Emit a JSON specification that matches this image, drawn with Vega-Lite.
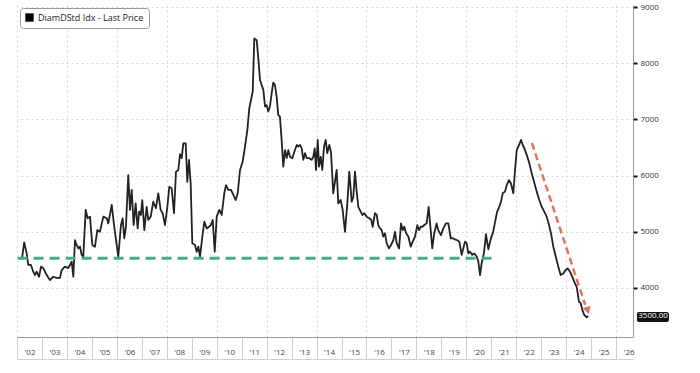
{
  "$schema": "https://vega.github.io/schema/vega-lite/v6.json",
  "width": 616,
  "height": 332,
  "autosize": "none",
  "padding": {"left": 17, "top": 5, "right": 67, "bottom": 36},
  "background": "white",
  "config": {"font": "Open Sans", "view": {"stroke": null}},
  "datasets": {
    "price": [
      {"date":"2002-03-17","value":4540},{"date":"2002-04-16","value":4813},{"date":"2002-05-22","value":4620},{"date":"2002-06-15","value":4410},{"date":"2002-07-24","value":4410},{"date":"2002-08-27","value":4290},{"date":"2002-09-21","value":4230},{"date":"2002-10-16","value":4290},{"date":"2002-11-19","value":4200},{"date":"2002-12-19","value":4380},
      {"date":"2003-01-20","value":4355},{"date":"2003-03-11","value":4230},{"date":"2003-04-28","value":4140},{"date":"2003-06-16","value":4200},{"date":"2003-08-04","value":4180},{"date":"2003-09-22","value":4180},{"date":"2003-10-16","value":4320},{"date":"2003-12-03","value":4380},
      {"date":"2004-01-21","value":4355},{"date":"2004-02-15","value":4410},{"date":"2004-03-11","value":4470},{"date":"2004-04-04","value":4200},{"date":"2004-04-28","value":4850},{"date":"2004-05-23","value":4765},{"date":"2004-06-16","value":4705},{"date":"2004-07-10","value":4735},{"date":"2004-08-04","value":4590},{"date":"2004-08-28","value":4560},{"date":"2004-10-02","value":5390},{"date":"2004-10-31","value":5240},{"date":"2004-12-04","value":5270},
      {"date":"2005-01-07","value":4765},{"date":"2005-02-15","value":4735},{"date":"2005-03-21","value":5030},{"date":"2005-04-29","value":5000},{"date":"2005-06-17","value":5270},{"date":"2005-08-06","value":5240},{"date":"2005-08-29","value":5150},{"date":"2005-10-18","value":5480},{"date":"2005-11-21","value":5120},{"date":"2005-12-20","value":4850},
      {"date":"2006-01-22","value":4560},{"date":"2006-03-02","value":5120},{"date":"2006-03-27","value":5240},{"date":"2006-04-19","value":4885},{"date":"2006-05-14","value":5090},{"date":"2006-06-17","value":6010},{"date":"2006-07-12","value":5390},{"date":"2006-08-06","value":5745},{"date":"2006-09-04","value":5120},{"date":"2006-10-03","value":5505},{"date":"2006-11-01","value":5060},{"date":"2006-11-24","value":5360},{"date":"2006-12-19","value":5300},
      {"date":"2007-01-08","value":5565},{"date":"2007-02-07","value":5030},{"date":"2007-03-13","value":5445},{"date":"2007-04-06","value":5210},{"date":"2007-05-11","value":5270},{"date":"2007-06-18","value":5535},{"date":"2007-07-27","value":5420},{"date":"2007-08-30","value":5685},{"date":"2007-10-04","value":5390},{"date":"2007-11-02","value":5330},{"date":"2007-12-06","value":5120},
      {"date":"2008-01-08","value":5420},{"date":"2008-02-07","value":5800},{"date":"2008-03-13","value":5775},{"date":"2008-04-16","value":5330},{"date":"2008-05-15","value":6070},{"date":"2008-06-18","value":6100},{"date":"2008-07-13","value":6380},{"date":"2008-08-07","value":6310},{"date":"2008-08-30","value":6575},{"date":"2008-10-04","value":6575},{"date":"2008-10-28","value":5890},{"date":"2008-11-22","value":6280},{"date":"2008-12-16","value":5860},
      {"date":"2009-01-09","value":4795},{"date":"2009-02-18","value":4765},{"date":"2009-03-14","value":4645},{"date":"2009-04-07","value":4735},{"date":"2009-05-02","value":4560},{"date":"2009-06-05","value":4915},{"date":"2009-07-04","value":5180},{"date":"2009-08-08","value":5060},{"date":"2009-09-11","value":5090},{"date":"2009-10-06","value":5120},{"date":"2009-11-04","value":5210},{"date":"2009-12-03","value":4645},
      {"date":"2010-01-01","value":5270},{"date":"2010-02-08","value":5390},{"date":"2010-03-15","value":5300},{"date":"2010-04-22","value":5685},{"date":"2010-05-17","value":5830},{"date":"2010-06-19","value":5745},{"date":"2010-07-29","value":5745},{"date":"2010-09-01","value":5655},{"date":"2010-10-06","value":5565},{"date":"2010-11-04","value":5685},{"date":"2010-12-08","value":6100},
      {"date":"2011-01-16","value":6250},{"date":"2011-02-19","value":6515},{"date":"2011-03-25","value":6810},{"date":"2011-04-23","value":7200},{"date":"2011-05-18","value":7345},{"date":"2011-06-12","value":7495},{"date":"2011-07-05","value":8440},{"date":"2011-08-09","value":8410},{"date":"2011-09-02","value":8085},{"date":"2011-09-27","value":7700},{"date":"2011-10-21","value":7610},{"date":"2011-11-14","value":7525},{"date":"2011-12-09","value":7230},
      {"date":"2012-01-02","value":7255},{"date":"2012-01-25","value":7140},{"date":"2012-02-19","value":7230},{"date":"2012-03-15","value":7465},{"date":"2012-04-07","value":7655},{"date":"2012-05-02","value":7610},{"date":"2012-05-27","value":7405},{"date":"2012-06-19","value":7080},{"date":"2012-07-14","value":7050},{"date":"2012-08-08","value":6635},{"date":"2012-09-01","value":6160},{"date":"2012-09-26","value":6455},{"date":"2012-10-21","value":6310},{"date":"2012-11-13","value":6455},{"date":"2012-12-08","value":6335},
      {"date":"2013-01-11","value":6310},{"date":"2013-02-10","value":6425},{"date":"2013-03-17","value":6545},{"date":"2013-04-09","value":6515},{"date":"2013-05-04","value":6545},{"date":"2013-05-29","value":6485},{"date":"2013-06-21","value":6280},{"date":"2013-07-16","value":6400},{"date":"2013-08-10","value":6310},{"date":"2013-09-17","value":6310},{"date":"2013-10-22","value":6280},{"date":"2013-11-14","value":6335},{"date":"2013-12-05","value":6485},{"date":"2013-12-24","value":6100},
      {"date":"2014-01-18","value":6635},{"date":"2014-02-06","value":6160},{"date":"2014-03-03","value":6335},{"date":"2014-03-26","value":6100},{"date":"2014-04-20","value":6515},{"date":"2014-05-15","value":6635},{"date":"2014-06-07","value":6400},{"date":"2014-07-06","value":6545},{"date":"2014-07-31","value":6420},{"date":"2014-09-02","value":5685},{"date":"2014-10-22","value":6100},{"date":"2014-11-15","value":5505},{"date":"2014-12-20","value":5565},
      {"date":"2015-01-18","value":5390},{"date":"2015-02-21","value":5000},{"date":"2015-03-27","value":5505},{"date":"2015-04-25","value":6070},{"date":"2015-05-30","value":5535},{"date":"2015-06-23","value":5625},{"date":"2015-07-17","value":6070},{"date":"2015-08-11","value":5715},{"date":"2015-09-04","value":5445},{"date":"2015-10-09","value":5360},{"date":"2015-11-01","value":5300},{"date":"2015-11-30","value":5330},
      {"date":"2016-01-04","value":5270},{"date":"2016-02-11","value":5240},{"date":"2016-03-12","value":5210},{"date":"2016-04-01","value":5090},{"date":"2016-05-05","value":5330},{"date":"2016-05-30","value":5300},{"date":"2016-06-22","value":5120},{"date":"2016-07-17","value":5060},{"date":"2016-08-11","value":5030},{"date":"2016-09-03","value":4915},{"date":"2016-09-28","value":4975},{"date":"2016-10-23","value":4795},{"date":"2016-11-26","value":4705},{"date":"2016-12-25","value":4765},
      {"date":"2017-01-28","value":4850},{"date":"2017-02-22","value":5000},{"date":"2017-03-19","value":4795},{"date":"2017-04-22","value":4705},{"date":"2017-05-21","value":5150},{"date":"2017-06-15","value":5030},{"date":"2017-07-08","value":5090},{"date":"2017-08-02","value":4975},{"date":"2017-09-05","value":4915},{"date":"2017-10-10","value":4735},{"date":"2017-11-08","value":4825},{"date":"2017-12-12","value":4915},
      {"date":"2018-01-14","value":5120},{"date":"2018-02-08","value":5030},{"date":"2018-03-05","value":5090},{"date":"2018-03-28","value":5090},{"date":"2018-04-26","value":5120},{"date":"2018-05-31","value":5150},{"date":"2018-06-29","value":5445},{"date":"2018-07-29","value":5030},{"date":"2018-08-21","value":4705},{"date":"2018-09-19","value":4975},{"date":"2018-10-24","value":5150},{"date":"2018-11-16","value":5030},{"date":"2018-12-26","value":4940},
      {"date":"2019-01-29","value":5060},{"date":"2019-03-10","value":5150},{"date":"2019-04-13","value":5150},{"date":"2019-05-18","value":4885},{"date":"2019-06-16","value":4885},{"date":"2019-07-20","value":4865},{"date":"2019-08-22","value":4850},{"date":"2019-09-21","value":4825},{"date":"2019-10-26","value":4590},{"date":"2019-11-18","value":4705},{"date":"2019-12-13","value":4825},
      {"date":"2020-01-07","value":4795},{"date":"2020-01-30","value":4615},{"date":"2020-02-24","value":4645},{"date":"2020-03-29","value":4590},{"date":"2020-04-27","value":4615},{"date":"2020-06-01","value":4560},{"date":"2020-06-25","value":4470},{"date":"2020-07-20","value":4230},{"date":"2020-08-14","value":4450},{"date":"2020-09-16","value":4630},{"date":"2020-10-15","value":4960},{"date":"2020-11-18","value":4690},{"date":"2020-12-23","value":4870},
      {"date":"2021-01-26","value":4990},{"date":"2021-03-01","value":5200},{"date":"2021-03-25","value":5350},{"date":"2021-04-26","value":5445},{"date":"2021-05-23","value":5535},{"date":"2021-06-17","value":5685},{"date":"2021-07-20","value":5715},{"date":"2021-08-14","value":5830},{"date":"2021-09-17","value":5920},{"date":"2021-10-16","value":5860},{"date":"2021-11-19","value":5685},{"date":"2021-12-14","value":6100},
      {"date":"2022-01-08","value":6455},{"date":"2022-02-11","value":6545},{"date":"2022-03-12","value":6635},{"date":"2022-04-06","value":6545},{"date":"2022-04-29","value":6485},{"date":"2022-06-03","value":6370},{"date":"2022-07-11","value":6220},{"date":"2022-08-15","value":6040},{"date":"2022-09-18","value":5890},{"date":"2022-10-27","value":5715},{"date":"2022-12-04","value":5565},
      {"date":"2023-01-08","value":5445},{"date":"2023-02-15","value":5360},{"date":"2023-03-22","value":5270},{"date":"2023-04-25","value":5120},{"date":"2023-05-24","value":4975},{"date":"2023-06-27","value":4735},{"date":"2023-08-01","value":4560},{"date":"2023-09-08","value":4380},{"date":"2023-10-13","value":4230},{"date":"2023-11-20","value":4260},{"date":"2023-12-25","value":4320},
      {"date":"2024-01-23","value":4350},{"date":"2024-02-26","value":4290},{"date":"2024-03-31","value":4200},{"date":"2024-04-29","value":4110},{"date":"2024-06-03","value":4020},{"date":"2024-07-07","value":3755},{"date":"2024-08-01","value":3730},{"date":"2024-08-24","value":3610},{"date":"2024-09-22","value":3520},{"date":"2024-10-28","value":3480},{"date":"2024-11-20","value":3500}
    ],
    "support": [{"start": "2002-01-10", "end": "2021-01-10", "value": 4530}],
    "trend": [{"start": "2022-08-18", "end": "2024-10-05", "from": 6580, "to": 3700}],
    "arrowhead": [{"date": "2024-11-12", "value": 3600}],
    "badge": [{"start": "2026-11-02", "end": "2028-02-13", "mid": "2027-06-25", "low": 3395, "high": 3573, "value": 3500, "label": "3500.00"}]
  },
  "layer": [
    {
      "data": {"name": "price"},
      "mark": {"type": "line", "strokeWidth": 1.8, "strokeJoin": "round"},
      "encoding": {
        "x": {
          "field": "date", "type": "temporal",
          "scale": {"type": "utc", "domain": ["2002-01-01", "2026-09-05"]},
          "axis": {
            "orient": "bottom", "title": null, "format": "'%y",
            "tickCount": {"interval": "year", "step": 1},
            "labelOffset": 12.5, "labelOverlap": false, "labelBound": false, "labelFlush": false,
            "labelFontSize": 8, "labelColor": "#444", "labelPadding": -11,
            "tickSize": 22, "tickColor": "#cfcfcf", "tickWidth": 1,
            "domainColor": "#999", "domainWidth": 1,
            "grid": true, "gridColor": "#d6d6d6", "gridDash": [2, 3],
            "gridOpacity": {"condition": {"test": "utcyear(datum.value) % 2 == 0", "value": 1}, "value": 0}
          }
        },
        "y": {
          "field": "value", "type": "quantitative",
          "scale": {"domain": [3128, 9036], "nice": false, "zero": false},
          "axis": {
            "orient": "right", "title": null, "values": [4000, 5000, 6000, 7000, 8000, 9000],
            "format": "d", "labelFontSize": 8, "labelColor": "#333", "labelPadding": 3,
            "tickSize": 4, "tickWidth": 2, "tickColor": "#111",
            "domainColor": "#999", "domainWidth": 1,
            "grid": true, "gridColor": "#d6d6d6", "gridDash": [2, 3]
          }
        },
        "color": {
          "datum": "DiamDStd Idx - Last Price", "type": "nominal",
          "scale": {"range": ["#222222"]},
          "legend": {
            "title": null, "orient": "top-left", "offset": 3,
            "symbolType": "square", "symbolFillColor": "#000", "symbolStrokeColor": "#000", "symbolSize": 70, "symbolStrokeWidth": 0,
            "labelFontSize": 9, "labelColor": "#222",
            "strokeColor": "#999", "fillColor": "white", "cornerRadius": 3, "padding": 5
          }
        }
      }
    },
    {
      "data": {"name": "support"},
      "mark": {"type": "rule", "color": "#3EAF8C", "strokeWidth": 3, "strokeDash": [10, 6]},
      "encoding": {
        "x": {"field": "start", "type": "temporal", "axis": {"orient": "bottom", "offset": 22, "domain": true, "domainColor": "#cfcfcf", "ticks": false, "labels": false, "grid": false, "title": null}},
        "x2": {"field": "end"},
        "y": {"field": "value", "type": "quantitative"}
      }
    },
    {
      "data": {"name": "trend"},
      "mark": {"type": "rule", "color": "#E8735C", "strokeWidth": 2.5, "strokeDash": [7, 4]},
      "encoding": {
        "x": {"field": "start", "type": "temporal", "axis": null},
        "x2": {"field": "end"},
        "y": {"field": "from", "type": "quantitative"},
        "y2": {"field": "to"}
      }
    },
    {
      "data": {"name": "arrowhead"},
      "mark": {"type": "point", "shape": "triangle-down", "filled": true, "color": "#E8735C", "size": 70, "angle": 342, "opacity": 1},
      "encoding": {
        "x": {"field": "date", "type": "temporal", "axis": null},
        "y": {"field": "value", "type": "quantitative"}
      }
    },
    {
      "data": {"name": "badge"},
      "mark": {"type": "rect", "color": "#111", "cornerRadius": 2},
      "encoding": {
        "x": {"field": "start", "type": "temporal", "axis": null},
        "x2": {"field": "end"},
        "y": {"field": "low", "type": "quantitative"},
        "y2": {"field": "high"}
      }
    },
    {
      "data": {"name": "badge"},
      "mark": {"type": "text", "color": "white", "fontSize": 8, "align": "center", "baseline": "middle"},
      "encoding": {
        "x": {"field": "mid", "type": "temporal", "axis": null},
        "y": {"field": "value", "type": "quantitative"},
        "text": {"field": "label"}
      }
    }
  ],
  "resolve": {"axis": {"x": "independent"}}
}
